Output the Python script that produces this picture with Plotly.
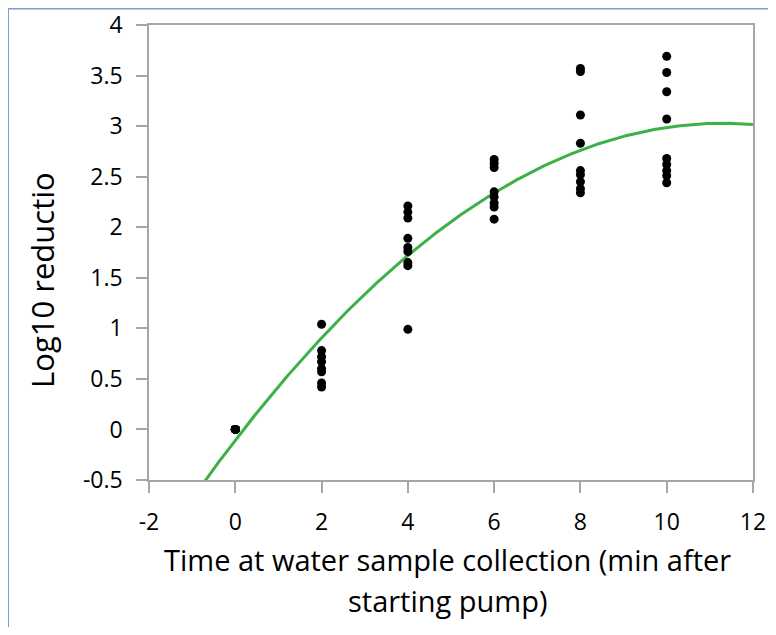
import numpy as np
import plotly.graph_objects as go

# Data
time_groups = [0, 2, 4, 6, 8, 10]
log_red_t0 = [0, 0, 0, 0, 0, 0, 0, 0, 0]
log_red_t2 = [1.04, 0.78, 0.72, 0.67, 0.60, 0.57, 0.46, 0.42]
log_red_t4 = [2.21, 2.15, 2.09, 1.89, 1.80, 1.76, 1.65, 1.62, 0.99]
log_red_t6 = [2.67, 2.63, 2.59, 2.35, 2.30, 2.24, 2.20, 2.08]
log_red_t8 = [3.57, 3.54, 3.11, 2.83, 2.56, 2.52, 2.45, 2.38, 2.34]
log_red_t10 = [3.69, 3.53, 3.34, 3.07, 2.68, 2.62, 2.56, 2.51, 2.44]
groups = [log_red_t0, log_red_t2, log_red_t4, log_red_t6, log_red_t8, log_red_t10]

x_ticks = [-2, 0, 2, 4, 6, 8, 10, 12]
y_ticks = [-0.5, 0, 0.5, 1, 1.5, 2, 2.5, 3, 3.5, 4]
x_tick_text = ["-2", "0", "2", "4", "6", "8", "10", "12"]
y_tick_text = ["-0.5", "0", "0.5", "1", "1.5", "2", "2.5", "3", "3.5", "4"]
x_title_lines = ["Time at water sample collection (min after", "starting pump)"]
y_title = "Log10 reductio"

xs, ys = [], []
for t, vals in zip(time_groups, groups):
    xs += [t] * len(vals)
    ys += vals

# Second-order polynomial trendline fitted to the data
coef = np.polyfit(xs, ys, 2)
xfit = np.linspace(-2, 12, 300)
yfit = np.polyval(coef, xfit)

FONT = "Open Sans"
fig = go.Figure()
fig.add_trace(go.Scatter(x=xfit, y=yfit, mode="lines",
                         line=dict(color="#3DB048", width=3), hoverinfo="skip"))
fig.add_trace(go.Scatter(x=xs, y=ys, mode="markers",
                         marker=dict(color="black", size=9)))

axis_common = dict(showgrid=False, zeroline=False, showline=True, linecolor="#A6A6A6",
                   linewidth=1.5, mirror=True, ticks="outside", tickcolor="#A6A6A6",
                   ticklen=11, tickwidth=1.5, automargin=False,
                   tickfont=dict(family=FONT, size=23, color="black"))
fig.update_xaxes(range=[-2, 12], tickvals=x_ticks, ticktext=x_tick_text,
                 ticklabelstandoff=10, **axis_common)
fig.update_yaxes(range=[-0.5, 4], tickvals=y_ticks, ticktext=y_tick_text,
                 ticklabelstandoff=9, **axis_common)

# x-axis title, two lines (plot area spans 455 px vertically)
for line, ypix in zip(x_title_lines, [79, 120]):
    fig.add_annotation(text=line, xref="paper", yref="paper", x=0.495, y=-ypix / 455,
                       xanchor="center", yanchor="middle", showarrow=False,
                       font=dict(family=FONT, size=29, color="black"))
fig.add_annotation(text=y_title, xref="paper", yref="paper", x=-0.177, y=0.44,
                   xanchor="center", yanchor="middle", showarrow=False, textangle=-90,
                   font=dict(family=FONT, size=31, color="black"))

# chart-area border
fig.add_shape(type="rect", xref="paper", yref="paper", x0=-0.2330, x1=1.1, y0=-0.7, y1=1.0357,
              line=dict(color="#7BA0CD", width=1.5), layer="below")

fig.update_layout(width=768, height=619, showlegend=False,
                  margin=dict(l=141, r=23, t=17, b=147),
                  paper_bgcolor="white", plot_bgcolor="white")
fig.write_html("out.html")
